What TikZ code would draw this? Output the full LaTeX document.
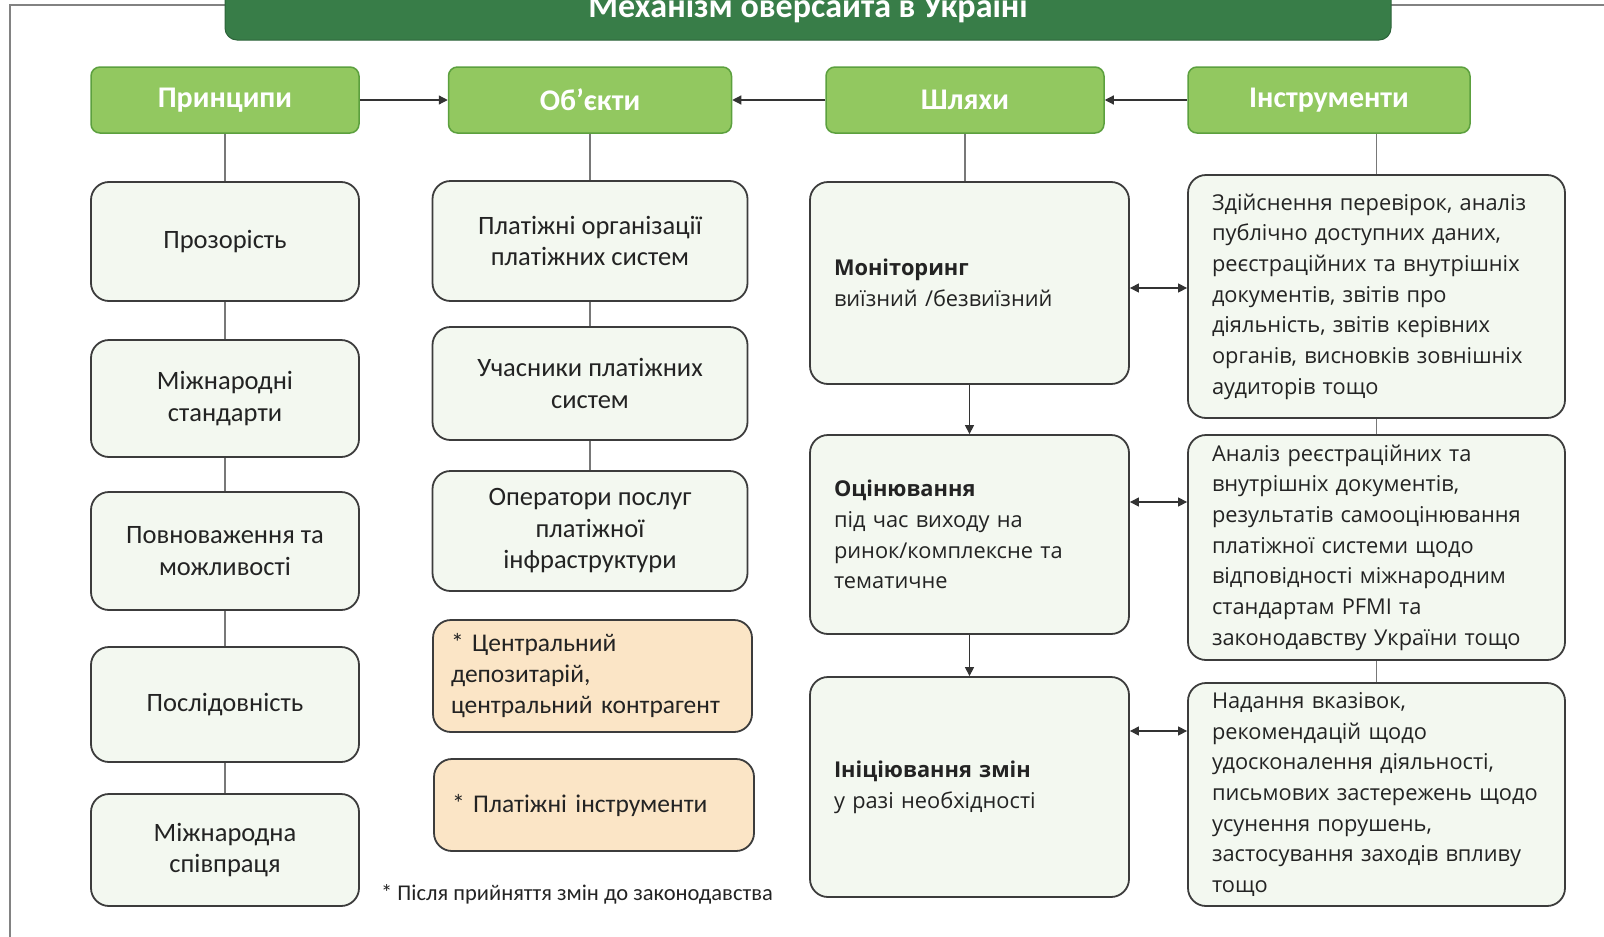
\documentclass[tikz,border=0pt]{standalone}
\usepackage{fontspec}
\setmainfont{Carlito}
\newfontfamily\osans{Open Sans}
\usetikzlibrary{arrows.meta}
\definecolor{titlefill}{RGB}{56,125,72}
\definecolor{hdrfill}{RGB}{146,200,96}
\definecolor{hdrborder}{RGB}{92,160,62}
\definecolor{boxfill}{RGB}{243,248,240}
\definecolor{boxborder}{RGB}{60,60,60}
\definecolor{orfill}{RGB}{251,229,198}
\definecolor{framecol}{RGB}{130,130,130}
\definecolor{linecol}{RGB}{120,120,120}
\definecolor{txt}{RGB}{35,35,35}
\begin{document}
\begin{tikzpicture}[x=1pt,y=-1pt,
  titlebox/.style={fill=titlefill, draw=titlefill!80!black, line width=1pt, rounded corners=12pt, minimum width=1166pt, minimum height=64pt, inner sep=0pt},
  titletext/.style={text=white, font=\bfseries\fontsize{34}{36}\selectfont, inner sep=0pt},
  hdr/.style={draw=hdrborder, fill=hdrfill, line width=1.5pt, rounded corners=9pt, text=white, font=\bfseries\fontsize{30}{32}\selectfont, minimum height=66pt, inner sep=0pt},
  box/.style={draw=boxborder, fill=boxfill, line width=1.8pt, rounded corners=18pt, inner sep=0pt, align=center, text=txt, font=\fontsize{26.5}{31.5}\selectfont},
  rbox/.style={box, align=left, inner xsep=24pt, font=\osans\fontsize{21.8}{30.7}\selectfont},
  orbox/.style={box, fill=orfill, align=left, inner xsep=18pt, font=\fontsize{25.5}{31}\selectfont},
  conn/.style={draw=linecol, line width=1.2pt},
  arr/.style={draw=black!80, line width=1.2pt, -{Triangle[length=9pt,width=9pt]}},
  darr/.style={draw=black!80, line width=1.2pt, {Triangle[length=9pt,width=9pt]}-{Triangle[length=9pt,width=9pt]}},
  note/.style={text=txt, font=\fontsize{22.5}{24}\selectfont, inner sep=0pt}
]
\useasboundingbox (0,0) rectangle (1604,937);
\clip (0,0) rectangle (1604,937);
\fill[white] (0,0) rectangle (1604,937);

% frame
\draw[framecol, line width=1.2pt] (10,937) -- (10,5) -- (1604,5);

% title
\node[titlebox] (t) at (808,8) {};
\node[titletext, anchor=base] (tt) at (808,17) {Механізм оверсайта в Україні};

% headers
\node[hdr, minimum width=268pt] (p0) at (225,100) {Принципи};
\node[hdr, minimum width=283pt] (o0) at (590,100) {Об’єкти};
\node[hdr, minimum width=278pt] (s0) at (965,100) {Шляхи};
\node[hdr, minimum width=282pt] (i0) at (1329,100) {Інструменти};

% column 1
\node[box, minimum width=268pt, minimum height=119pt] (p1) at (225,241.5) {Прозорість};
\node[box, minimum width=268pt, minimum height=117pt] (p2) at (225,398.5) {Міжнародні\\стандарти};
\node[box, minimum width=268pt, minimum height=118pt] (p3) at (225,551) {Повноваження та\\можливості};
\node[box, minimum width=268pt, minimum height=115pt] (p4) at (225,704.5) {Послідовність};
\node[box, minimum width=268pt, minimum height=112pt] (p5) at (225,850) {Міжнародна\\співпраця};

% column 2
\node[box, minimum width=315pt, minimum height=120pt] (o1) at (590,241) {Платіжні організації\\платіжних систем};
\node[box, minimum width=315pt, minimum height=113pt] (o2) at (590,383.5) {Учасники платіжних\\систем};
\node[box, minimum width=315pt, minimum height=120pt] (o3) at (590,531) {Оператори послуг\\платіжної\\інфраструктури};
\node[orbox, minimum width=319pt, minimum height=112pt, text width=283pt] (o4) at (592.5,676) {* Центральний\\депозитарій,\\центральний контрагент};
\node[orbox, minimum width=320pt, minimum height=92pt, text width=284pt] (o5) at (594,805) {* Платіжні інструменти};
\node[note] (fn) at (577,894) {* Після прийняття змін до законодавства};

% column 3
\node[rbox, minimum width=319pt, minimum height=202pt, text width=271pt] (s1) at (969.5,283) {\textbf{Моніторинг}\\виїзний /безвиїзний};
\node[rbox, minimum width=319pt, minimum height=199pt, text width=271pt] (s2) at (969.5,534.5) {\textbf{Оцінювання}\\під час виходу на\\ринок/комплексне та\\тематичне};
\node[rbox, minimum width=319pt, minimum height=220pt, text width=271pt] (s3) at (969.5,787) {\textbf{Ініціювання змін}\\у разі необхідності};

% column 4
\node[rbox, minimum width=377pt, minimum height=243pt, text width=329pt] (i1) at (1376.5,296.5) {Здійснення перевірок, аналіз\\публічно доступних даних,\\реєстраційних та внутрішніх\\документів, звітів про\\діяльність, звітів керівних\\органів, висновків зовнішніх\\аудиторів тощо};
\node[rbox, minimum width=377pt, minimum height=225pt, text width=329pt] (i2) at (1376.5,547.5) {Аналіз реєстраційних та\\внутрішніх документів,\\результатів самооцінювання\\платіжної системи щодо\\відповідності міжнародним\\стандартам PFMI та\\законодавству України тощо};
\node[rbox, minimum width=377pt, minimum height=223pt, text width=329pt] (i3) at (1376.5,794.5) {Надання вказівок,\\рекомендацій щодо\\удосконалення діяльності,\\письмових застережень щодо\\усунення порушень,\\застосування заходів впливу\\тощо};

% header arrows
\draw[arr] (p0.east) -- (o0.west);
\draw[arr] (s0.west) -- (o0.east);
\draw[arr] (i0.west) -- (s0.east);

% column connectors
\draw[conn] (p0.south) -- (p1.north);
\draw[conn] (p1.south) -- (p2.north);
\draw[conn] (p2.south) -- (p3.north);
\draw[conn] (p3.south) -- (p4.north);
\draw[conn] (p4.south) -- (p5.north);

\draw[conn] (o0.south) -- (o0.south |- o1.north);
\draw[conn] (o1.south) -- (o2.north);
\draw[conn] (o2.south) -- (o3.north);

\draw[conn] (s0.south) -- (s0.south |- s1.north);
\draw[arr] (s1.south) -- (s2.north);
\draw[arr] (s2.south) -- (s3.north);

\draw[conn] (i1.north) -- (i1.north |- i0.south);
\draw[conn] (i1.south) -- (i2.north);
\draw[conn] (i2.south) -- (i3.north);

% double arrows
\draw[darr] (s1.east |- 0,288) -- (i1.west |- 0,288);
\draw[darr] (s2.east |- 0,502) -- (i2.west |- 0,502);
\draw[darr] (s3.east |- 0,731) -- (i3.west |- 0,731);
\end{tikzpicture}
\end{document}
